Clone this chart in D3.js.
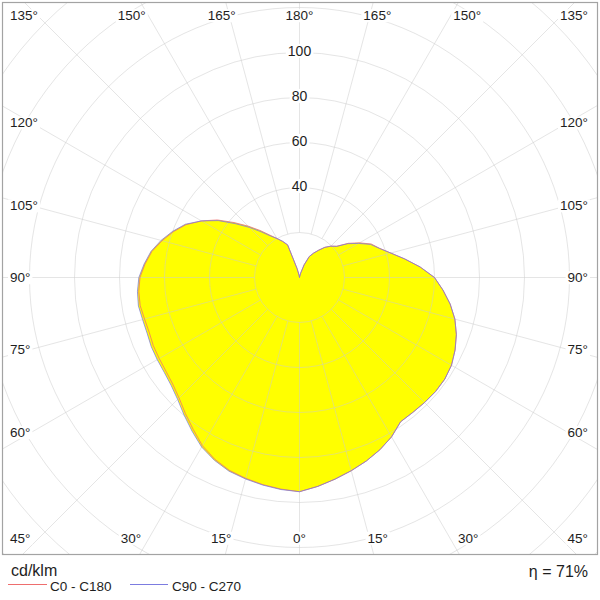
<!DOCTYPE html>
<html><head><meta charset="utf-8">
<script src="https://cdn.jsdelivr.net/npm/d3@7"></script>
<style>
body{margin:0;background:#fff}
svg{display:block}
text{font-family:"Liberation Sans",Arial,Helvetica,sans-serif;fill:#1e1e1e}
</style>
</head><body>
<svg id="chart" width="600" height="600"></svg>
<script>
// ---- data (cd/klm) ----
const gammaAngles = [0,5,10,15,20,25,30,35,40,45,50,55,60,65,70,75,80,85,90,95,100,105,110,115,120,125,130,135,140,145,150,155,160,165,170,175,180];
const c0Values   = [95.2,93.2,91.0,88.9,86.8,84.5,81.8,78.3,78.3,78.6,78.9,78.8,78.0,76.3,74.2,71.5,68.0,64.0,60.0,53.8,47.5,42.0,37.9,35.2,30.8,26.5,21.6,19.7,17.5,14.8,12.5,10.3,6.0,2.0,0.5,0,0];
const c180Values = [95.0,94.4,93.5,92.4,91.2,89.1,86.3,82.4,78.9,75.7,73.6,72.5,72.0,71.7,71.1,71.3,71.9,71.7,70.9,68.9,66.6,63.2,59.6,55.6,50.3,44.6,38.0,32.3,27.3,23.0,20.0,17.6,15.3,4.0,1.0,0,0];
const c90Values  = [95.2,93.2,91.0,88.9,86.8,84.5,81.8,78.3,78.3,78.6,78.9,78.8,78.0,76.3,74.2,71.5,68.0,64.0,60.0,53.8,47.5,42.0,37.8,34.8,30.3,26.2,21.5,19.7,17.5,14.8,12.5,10.3,6.0,2.0,0.5,0,0];
const c270Values = [95.2,94.6,93.7,92.7,91.6,89.6,87.0,83.3,79.8,76.6,74.5,73.4,73.0,72.7,72.1,72.2,72.7,72.3,71.4,69.3,67.0,63.7,60.0,56.0,50.3,44.1,37.2,31.5,26.5,22.5,20.0,17.8,15.5,4.0,1.0,0,0];
const ringValues = [20,40,60,80,100,120,140,160,180];
const ringLabelValues = [40,60,80,100];
const spokeAngles = [0,15,30,45,60,75,90,105,120,135,150,165,180,195,210,225,240,255,270,285,300,315,330,345];
const angleLabelValues = [0,15,30,45,60,75,90,105,120,135,150,165,180];
const seriesNames = ["C0 - C180","C90 - C270"];
const seriesColors = ["#ee6e6e","#7c7ce0"];
const unitText = "cd/klm";
const efficiencyText = "η = 71%";

// ---- layout ----
const cx = 299.5, cy = 277.5;
const plot = {x:2.5, y:2.5, w:595, h:552};
const r = d3.scaleLinear().domain([0,100]).range([0,225]);
const deg = Math.PI/180;

const svg = d3.select("#chart");
svg.append("rect").attr("width",600).attr("height",600).attr("fill","#fff");
svg.append("clipPath").attr("id","plotclip").append("rect")
  .attr("x",plot.x).attr("y",plot.y).attr("width",plot.w).attr("height",plot.h);
const clipG = svg.append("g").attr("clip-path","url(#plotclip)");
const pg = clipG.append("g").attr("transform",`translate(${cx},${cy})`);

function buildPoints(right,left){
  const pts=[];
  gammaAngles.forEach((gm,i)=>pts.push({ang:Math.PI-gm*deg, v:right[i]}));
  for(let i=gammaAngles.length-2;i>=1;i--) pts.push({ang:Math.PI+gammaAngles[i]*deg, v:left[i]});
  return pts;
}
const radial = d3.lineRadial().angle(d=>d.ang).radius(d=>r(d.v)).curve(d3.curveLinearClosed);
const series = [buildPoints(c0Values,c180Values), buildPoints(c90Values,c270Values)];

// fill
pg.selectAll("path.fill").data(series).join("path").attr("class","fill")
  .attr("d",radial).attr("fill","#ffff00").attr("stroke","none");

// grid
const gridCol = "#cccccc";
pg.selectAll("circle.ring").data(ringValues).join("circle").attr("class","ring")
  .attr("r",d=>r(d)).attr("fill","none").attr("stroke",gridCol).attr("stroke-opacity",0.5).attr("stroke-width",1);
pg.selectAll("line.spoke").data(spokeAngles).join("line").attr("class","spoke")
  .attr("x1",d=>Math.sin(d*deg)*r(20)).attr("y1",d=>Math.cos(d*deg)*r(20))
  .attr("x2",d=>Math.sin(d*deg)*r(200)).attr("y2",d=>Math.cos(d*deg)*r(200))
  .attr("stroke",gridCol).attr("stroke-opacity",0.5).attr("stroke-width",1);

// outlines
pg.selectAll("path.line").data(series).join("path").attr("class","line")
  .attr("d",radial).attr("fill","none")
  .attr("stroke",(d,i)=>seriesColors[i]).attr("stroke-width",0.9).attr("stroke-opacity",0.85);

// labels with white background
const lab = svg.append("g");
function addLabel(x,y,txt,anchor,size){
  const gg = lab.append("g");
  const t = gg.append("text").attr("x",x).attr("y",y).attr("dy","0.35em")
    .attr("text-anchor",anchor).attr("font-size",size).text(txt);
  const b = t.node().getBBox();
  gg.insert("rect","text").attr("x",b.x-2).attr("y",b.y+1).attr("width",b.width+4).attr("height",b.height-2).attr("fill","#fff");
}
ringLabelValues.forEach(v=>addLabel(cx, cy-r(v)-1.5, String(v), "middle", 14));

angleLabelValues.forEach(gm=>{
  [1,-1].forEach(side=>{
    if(side===-1 && (gm===0 || gm===180)) return;
    const sx = side*Math.sin(gm*deg), sy = Math.cos(gm*deg);
    let x,y,anchor="middle";
    if(Math.abs(sx) > Math.abs(sy)+0.01){
      y = cy + sy/Math.abs(sx)*268;
      if(side<0){x=10;anchor="start";} else {x=588;anchor="end";}
    } else {
      y = sy>0 ? 538 : 15.5;
      const d = sy>0 ? 292 : 290.5;
      x = cx + sx/Math.abs(sy)*d;
      if(x<30){x=10;anchor="start";}
      else if(x>569){x=588;anchor="end";}
    }
    addLabel(x,y,gm+"°",anchor,13.5);
  });
});

// border
svg.append("rect").attr("x",plot.x).attr("y",plot.y).attr("width",plot.w).attr("height",plot.h)
  .attr("fill","none").attr("stroke","#a3a3a3").attr("stroke-width",1.2);

// footer
svg.append("text").attr("x",11).attr("y",576).attr("font-size",16).text(unitText);
svg.append("text").attr("x",588).attr("y",577).attr("font-size",16).attr("text-anchor","end").text(efficiencyText);
const legX = [[8,47,50],[130,168,172]];
seriesNames.forEach((n,i)=>{
  svg.append("line").attr("x1",legX[i][0]).attr("x2",legX[i][1]).attr("y1",584.5).attr("y2",584.5)
    .attr("stroke",seriesColors[i]).attr("stroke-width",1);
  svg.append("text").attr("x",legX[i][2]).attr("y",590.5).attr("font-size",13.5).text(n);
});
</script>
</body></html>
